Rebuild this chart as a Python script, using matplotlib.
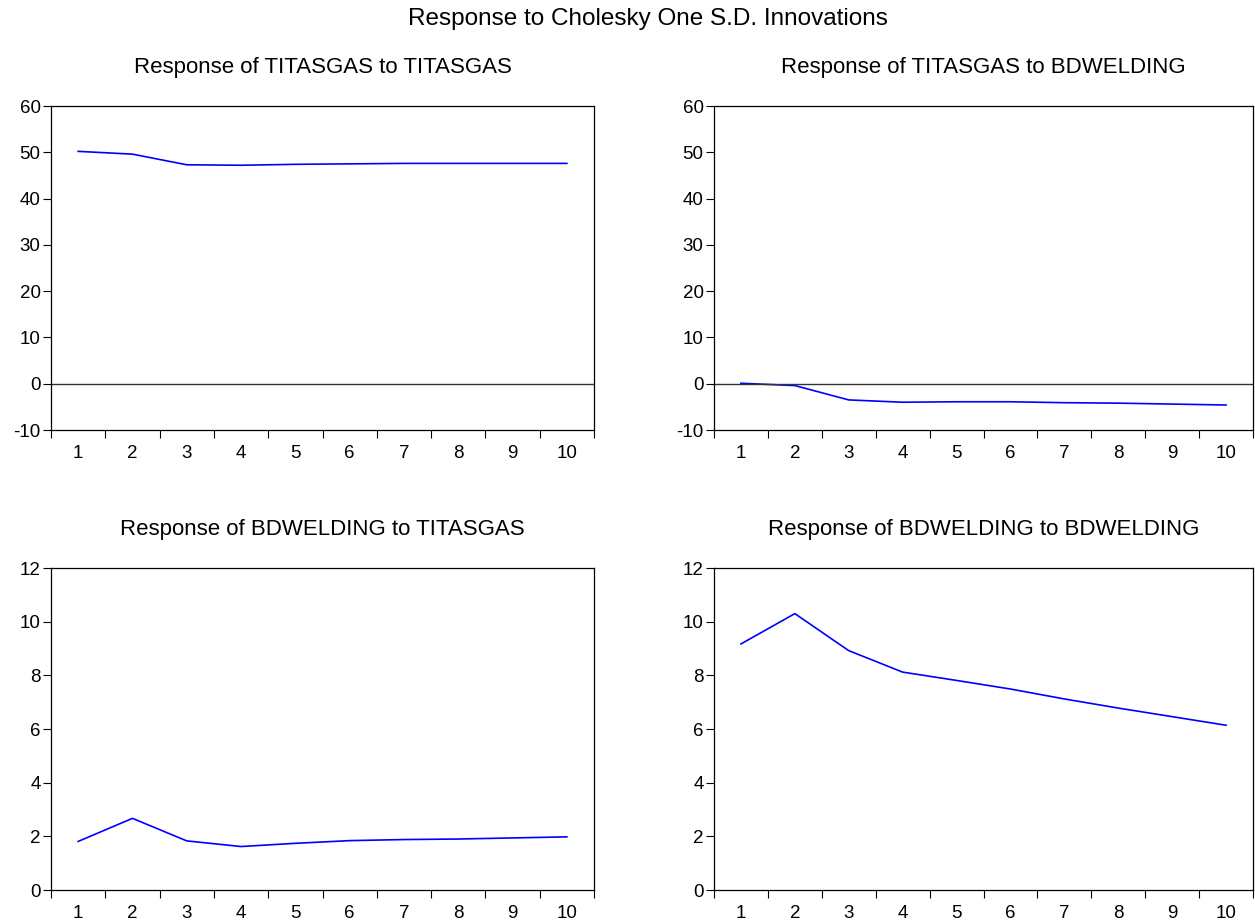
import numpy as np
import matplotlib.pyplot as plt
from matplotlib.ticker import FixedLocator, NullFormatter

plt.rcParams['font.family'] = ['Liberation Sans', 'DejaVu Sans']
plt.rcParams['axes.unicode_minus'] = False

periods = np.arange(1, 11)

# impulse responses
titas_to_titas = [50.2, 49.6, 47.3, 47.2, 47.4, 47.5, 47.6, 47.6, 47.6, 47.6]
titas_to_bdweld = [0.1, -0.4, -3.5, -4.0, -3.9, -3.9, -4.1, -4.2, -4.4, -4.6]
bdweld_to_titas = [1.81, 2.67, 1.83, 1.62, 1.74, 1.84, 1.88, 1.90, 1.94, 1.98]
bdweld_to_bdweld = [9.17, 10.30, 8.92, 8.12, 7.81, 7.49, 7.12, 6.78, 6.46, 6.14]

panel_titles = [
    "Response of TITASGAS to TITASGAS",
    "Response of TITASGAS to BDWELDING",
    "Response of BDWELDING to TITASGAS",
    "Response of BDWELDING to BDWELDING",
]
panel_series = [titas_to_titas, titas_to_bdweld, bdweld_to_titas, bdweld_to_bdweld]
top_yticks = [-10, 0, 10, 20, 30, 40, 50, 60]
bottom_yticks = [0, 2, 4, 6, 8, 10, 12]

W, H = 1255, 921
fig = plt.figure(figsize=(W / 100, H / 100), dpi=100)

# axes boxes in pixels: left, right, top, bottom
cols = [(51, 594), (714, 1253)]
rows = [(106, 430), (568, 890)]

fig.text(648 / W, 1 - 19 / H, "Response to Cholesky One S.D. Innovations",
         ha='center', va='center', fontsize=17.5)

for i, (title, series) in enumerate(zip(panel_titles, panel_series)):
    r, c = divmod(i, 2)
    x0, x1 = cols[c]
    y0, y1 = rows[r]
    ax = fig.add_axes([x0 / W, 1 - y1 / H, (x1 - x0) / W, (y1 - y0) / H])

    ax.plot(periods, series, color='#0000ff', lw=1.2)

    if r == 0:
        ax.axhline(0, color='#333333', lw=1.0)
        ax.set_ylim(-10, 60)
        ax.set_yticks(top_yticks)
    else:
        ax.set_ylim(0, 12)
        ax.set_yticks(bottom_yticks)

    ax.set_xlim(0.5, 10.5)
    ax.set_xticks(periods)
    ax.set_xticklabels([str(p) for p in periods])
    ax.xaxis.set_minor_locator(FixedLocator(np.arange(0.5, 11, 1.0)))
    ax.xaxis.set_minor_formatter(NullFormatter())
    ax.tick_params(axis='x', which='major', length=0, pad=11, labelsize=13.5)
    ax.tick_params(axis='x', which='minor', length=6, width=0.8, direction='out')
    ax.tick_params(axis='y', which='major', length=5.5, width=0.8, direction='out',
                   labelsize=13.5, pad=2)

    for sp in ax.spines.values():
        sp.set_linewidth(0.9)
        sp.set_color('black')

    ax.set_title(title, fontsize=16, pad=24)

fig.savefig("out.png", dpi=100)
